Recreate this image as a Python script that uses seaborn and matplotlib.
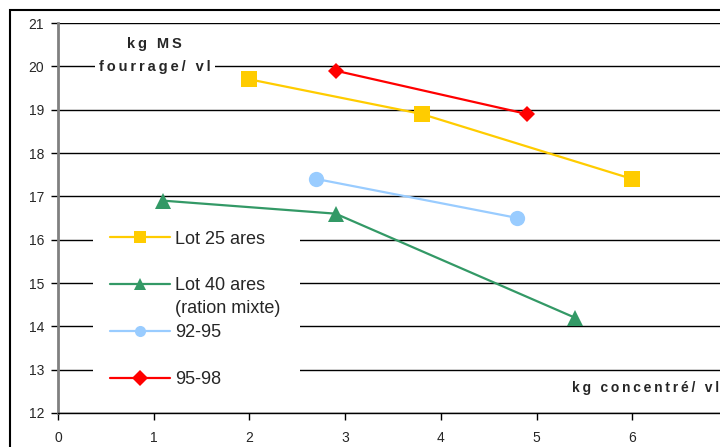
import matplotlib.pyplot as plt
import seaborn as sns
from matplotlib.patches import Rectangle

# values
lot25_x = [2.0, 3.8, 6.0]
lot25_y = [19.7, 18.9, 17.4]

lot40_x = [1.1, 2.9, 5.4]
lot40_y = [16.9, 16.6, 14.2]

p9295_x = [2.7, 4.8]
p9295_y = [17.4, 16.5]

p9598_x = [2.9, 4.9]
p9598_y = [19.9, 18.9]

labels = ['Lot 25 ares', 'Lot 40 ares', '92-95', '95-98']
label_extra = '(ration mixte)'


def spaced(s):
    # the original labels are letter-spaced
    return '\u2009'.join(s)


sns.set_style('white')
plt.rcParams['font.family'] = ['Liberation Sans', 'DejaVu Sans']

fig = plt.figure(figsize=(7.2, 4.47), dpi=100)
ax = fig.add_axes([58 / 720, 1 - 413 / 447, 670 / 720, 390 / 447])

sns.lineplot(x=lot25_x, y=lot25_y, ax=ax, color='#FFCC00', marker='s', markersize=11,
             markeredgewidth=0, linewidth=1.6, label=labels[0], zorder=3)
sns.lineplot(x=lot40_x, y=lot40_y, ax=ax, color='#339966', marker='^', markersize=12,
             markeredgewidth=0, linewidth=1.6, label=labels[1], zorder=3)
sns.lineplot(x=p9295_x, y=p9295_y, ax=ax, color='#99CCFF', marker='o', markersize=11,
             markeredgewidth=0, linewidth=1.6, label=labels[2], zorder=3)
sns.lineplot(x=p9598_x, y=p9598_y, ax=ax, color='#FF0000', marker='D', markersize=8,
             markeredgewidth=0, linewidth=1.6, label=labels[3], zorder=3)

ax.set_xlim(0, 7)
ax.set_ylim(12, 21)
ax.set_xticks(range(0, 7))
ax.set_yticks(range(12, 22))
ax.grid(axis='y', color='black', linewidth=1)
ax.set_axisbelow(True)
ax.set_xlabel('')
ax.set_ylabel('')

for s in ['top', 'right']:
    ax.spines[s].set_visible(False)
ax.spines['left'].set_color('#808080')
ax.spines['left'].set_linewidth(2)
ax.spines['bottom'].set_color('black')
ax.spines['bottom'].set_linewidth(1)
ax.tick_params(axis='both', direction='out', length=5, width=1, color='black',
               labelsize=10, left=True, bottom=True)
ax.tick_params(axis='x', pad=8)
ax.tick_params(axis='y', pad=5)

# white area behind the legend hides the gridlines there
ax.add_patch(Rectangle((0.366, 12.53), 2.16, 3.81, facecolor='white', edgecolor='none',
                       zorder=1))

leg = ax.legend(loc='center left', bbox_to_anchor=(0.0776, 0.266), frameon=False,
                fontsize=13, handlelength=3.3, handletextpad=0.28, labelspacing=1.65,
                borderpad=0, borderaxespad=0)
leg.set_zorder(4)
for h in leg.legend_handles:
    h.set_markersize(8)
ax.text(1.223, 14.42, label_extra, fontsize=13, ha='left', va='center', zorder=5)

ax.text(1.01, 20.52, spaced('kg MS'), fontsize=10.5, fontweight='bold', ha='center',
        va='center')
ax.text(1.01, 19.98, spaced('fourrage/ vl'), fontsize=10.5, fontweight='bold', ha='center',
        va='center', bbox=dict(facecolor='white', edgecolor='none', pad=3), zorder=4)
ax.text(5.37, 12.58, spaced('kg concentré/ vl'), fontsize=10, fontweight='bold',
        ha='left', va='center', bbox=dict(facecolor='white', edgecolor='none', pad=3),
        zorder=4)

# outer chart border (cropped at right and bottom)
fig.patches.append(Rectangle((10 / 720, -0.1), 1.2, 1.1 - 10 / 447, transform=fig.transFigure,
                             fill=False, edgecolor='black', linewidth=1.5))

fig.savefig('out.png', dpi=100)
